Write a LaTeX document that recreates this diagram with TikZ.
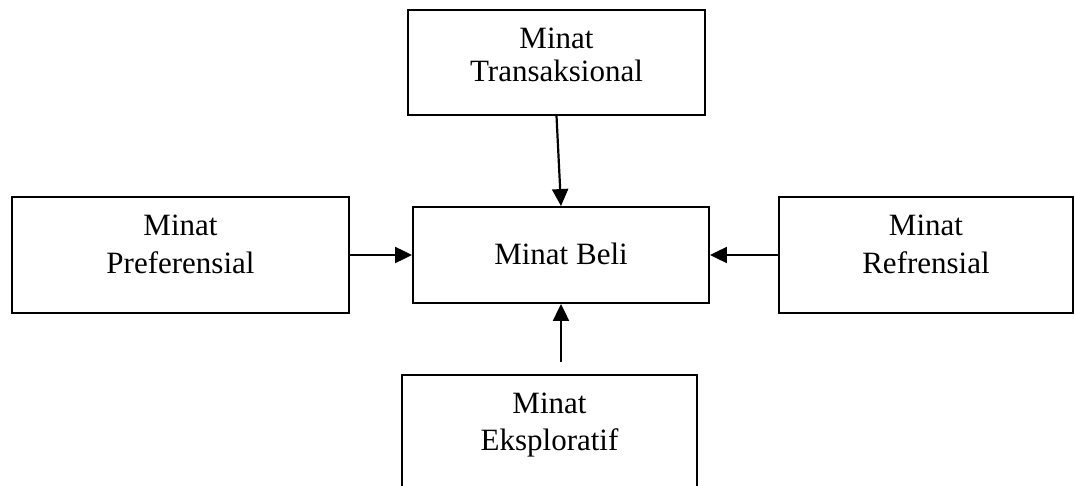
\documentclass[tikz,border=0pt]{standalone}
\usepackage{fontspec}
\setmainfont{Liberation Serif}
\usetikzlibrary{arrows.meta}
\begin{document}
\begin{tikzpicture}[x=1pt,y=-1pt,
  box/.style={draw,line width=1.9pt,inner sep=0pt,minimum width=#1},
  lbl/.style={anchor=base,inner sep=0pt,font=\fontsize{31}{36}\selectfont},
  link/.style={line width=2.2pt,-{Triangle[length=17pt,width=16pt]}}]
\useasboundingbox (0,0) rectangle (1075,486);
\clip (0,0) rectangle (1075,486);

% boxes
\node[box=297pt,minimum height=105pt] (trans) at (556.5,62.5) {};
\node[box=337pt,minimum height=116pt] (pref) at (180.5,255) {};
\node[box=296pt,minimum height=96pt] (beli) at (561,255) {};
\node[box=294pt,minimum height=116pt] (ref) at (926,255) {};
\node[box=295pt,minimum height=116pt] (eks) at (549.5,433) {};

% labels
\node[lbl] (trans1) at (556.5,49) {Minat};
\node[lbl] (trans2) at (556.5,82) {Transaksional};
\node[lbl] (pref1) at (180.5,236) {Minat};
\node[lbl] (pref2) at (180.5,273) {Preferensial};
\node[lbl] (beli1) at (561,265) {Minat Beli};
\node[lbl] (ref1) at (926,236) {Minat};
\node[lbl] (ref2) at (926,273) {Refrensial};
\node[lbl] (eks1) at (549.5,413) {Minat};
\node[lbl] (eks2) at (549.5,450) {Eksploratif};

% connectors
\coordinate (eksTop) at (561,362);
\draw[link] (trans.south) -- (beli.north);
\draw[link] (pref.east) -- (beli.west);
\draw[link] (ref.west) -- (beli.east);
\draw[link] (eksTop) -- (beli.south);
\end{tikzpicture}
\end{document}
